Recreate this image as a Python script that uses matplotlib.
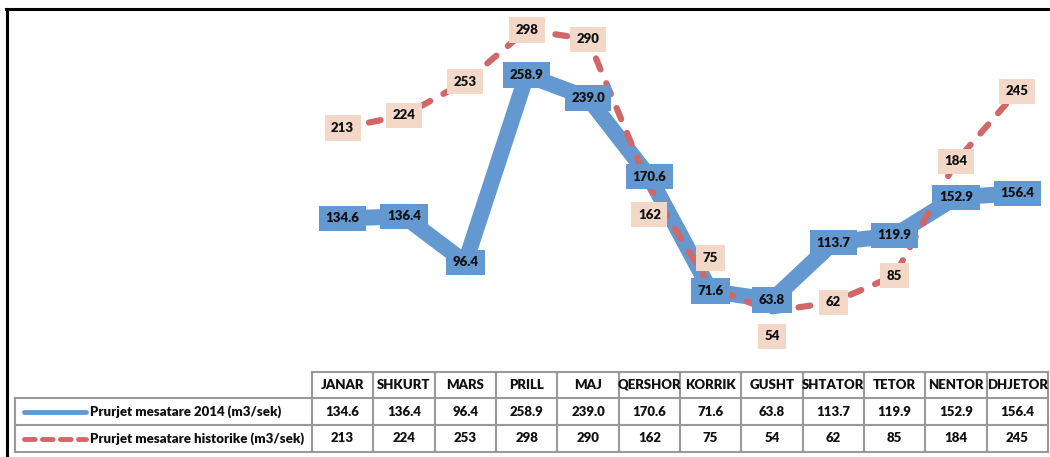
import numpy as np
import matplotlib.pyplot as plt
from matplotlib.lines import Line2D

plt.rcParams['font.family'] = ['Lato', 'DejaVu Sans']

# data
months = ["JANAR", "SHKURT", "MARS", "PRILL", "MAJ", "QERSHOR",
          "KORRIK", "GUSHT", "SHTATOR", "TETOR", "NENTOR", "DHJETOR"]
flow_2014 = [134.6, 136.4, 96.4, 258.9, 239.0, 170.6, 71.6, 63.8, 113.7, 119.9, 152.9, 156.4]
flow_hist = [213, 224, 253, 298, 290, 162, 75, 54, 62, 85, 184, 245]
name_2014 = "Prurjet mesatare 2014 (m3/sek)"
name_hist = "Prurjet mesatare historike (m3/sek)"

# label offsets for the historic series (points, vertical)
hist_dy = [0, 0, 0, 0, 0, -20, 21, -18, 0, 0, 0, 0]

blue = "#6399D0"
red = "#D06868"
peach = "#F3D8C7"
txt = dict(fontsize=9.5, fontweight='heavy', color='#111111')

W, H = 1050, 457
fig = plt.figure(figsize=(W / 100, H / 100), dpi=100)

# chart area, columns line up with the data table below
x0, x1 = 312, 1048
y_zero, y_top = 373.6, 8
ax = fig.add_axes([x0 / W, 1 - y_zero / H, (x1 - x0) / W, (y_zero - y_top) / H])
x = np.arange(len(months))
ax.plot(x, flow_2014, color=blue, lw=11.5, solid_joinstyle='miter', zorder=2)
ax.plot(x, flow_hist, color=red, lw=4.5, dashes=(1.9, 2.4), dash_capstyle='round', zorder=3)
ax.set_xlim(-0.5, len(months) - 0.5)
ax.set_ylim(0, (y_zero - y_top) / 1.153)
ax.axis('off')

for i, v in enumerate(flow_2014):
    ax.annotate(f"{v:.1f}", (i, v), ha='center', va='center', zorder=5,
                bbox=dict(boxstyle='square,pad=0.5', fc=blue, ec='none'), **txt)
for i, v in enumerate(flow_hist):
    ax.annotate(f"{v}", (i, v), xytext=(0, hist_dy[i]), textcoords='offset points',
                ha='center', va='center', zorder=6,
                bbox=dict(boxstyle='square,pad=0.5', fc=peach, ec='none'), **txt)

# data table
tb = fig.add_axes([0, 0, 1, 1], facecolor='none')
tb.set_xlim(0, W)
tb.set_ylim(H, 0)
tb.axis('off')
cols = np.linspace(x0, x1, len(months) + 1)
rows = [372, 398, 425, 452]
left = 15
gc = "#999999"
tb.plot([x0, x1], [rows[0]] * 2, color=gc, lw=1.5)
for r in rows[1:]:
    tb.plot([left, x1], [r, r], color=gc, lw=1.5)
for c in cols:
    tb.plot([c, c], [rows[0], rows[-1]], color=gc, lw=1.5)
tb.plot([left, left], [rows[1], rows[-1]], color=gc, lw=1.5)

cx = (cols[:-1] + cols[1:]) / 2
yc = [(rows[k] + rows[k + 1]) / 2 for k in range(3)]
for i, m in enumerate(months):
    tb.text(cx[i], yc[0], m, ha='center', va='center', **txt)
    tb.text(cx[i], yc[1], f"{flow_2014[i]:.1f}", ha='center', va='center', **txt)
    tb.text(cx[i], yc[2], f"{flow_hist[i]}", ha='center', va='center', **txt)

tb.plot([24, 86], [yc[1]] * 2, color=blue, lw=3.5, solid_capstyle='round')
tb.plot([24, 86], [yc[2]] * 2, color=red, lw=3.5, dashes=(2.2, 1.5), dash_capstyle='round')
tb.text(90, yc[1], name_2014, ha='left', va='center', **txt)
tb.text(90, yc[2], name_hist, ha='left', va='center', **txt)

# black frame on top and left
fig.add_artist(Line2D([6 / W, 1], [1 - 8.5 / H] * 2, color='black', lw=2.2))
fig.add_artist(Line2D([7 / W] * 2, [0, 1 - 8.5 / H], color='black', lw=2.2))

fig.savefig("out.png", dpi=100)
